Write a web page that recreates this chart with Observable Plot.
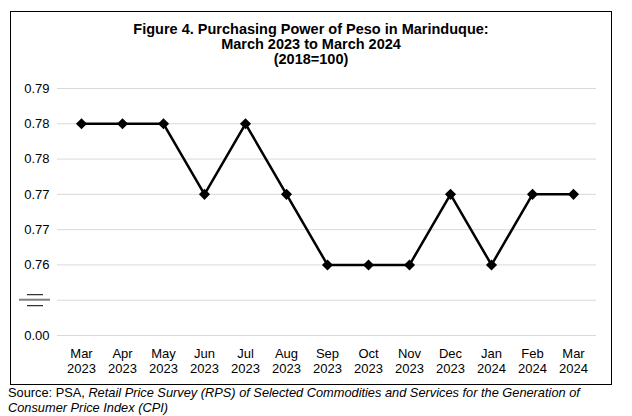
<!DOCTYPE html>
<html>
<head>
<meta charset="utf-8">
<script src="https://cdn.jsdelivr.net/npm/d3@7"></script>
<script src="https://cdn.jsdelivr.net/npm/@observablehq/plot@0.6"></script>
<style>
  html, body { margin: 0; padding: 0; background: #fff; }
  #wrap { position: relative; width: 632px; height: 416px; font-family: "Liberation Sans", Arial, sans-serif; color: #000; }
  #box { position: absolute; left: 10px; top: 11px; width: 602px; height: 374px; border: 1px solid #000; box-sizing: border-box; }
  #title { position: absolute; left: 10px; width: 602px; top: 22px; text-align: center; font-weight: bold; font-size: 14.5px; line-height: 15px; }
  #chart { position: absolute; left: 0; top: 0; }
  #caption { position: absolute; left: 8px; top: 385px; font-size: 12.8px; line-height: 15px; }
</style>
</head>
<body>
<div id="wrap">
  <div id="box"></div>
  <div id="title">Figure 4. Purchasing Power of Peso in Marinduque:<br>March 2023 to March 2024<br>(2018=100)</div>
  <div id="chart"></div>
  <div id="caption">Source: PSA, <i>Retail Price Survey (RPS) of Selected Commodities and Services for the Generation of<br>Consumer Price Index (CPI)</i></div>
</div>
<script>
const months = ["Mar\n2023","Apr\n2023","May\n2023","Jun\n2023","Jul\n2023","Aug\n2023","Sep\n2023","Oct\n2023","Nov\n2023","Dec\n2023","Jan\n2024","Feb\n2024","Mar\n2024"];
const values = [0.78,0.78,0.78,0.77,0.78,0.77,0.76,0.76,0.76,0.77,0.76,0.77,0.77];
const yTicks = [0.75,0.755,0.76,0.765,0.77,0.775,0.78,0.785];
const yTickLabels = ["0.00","","0.76","0.77","0.77","0.78","0.78","0.79"];
const breakValue = 0.755;

const data = months.map((m, i) => ({month: m, value: values[i]}));

const plot = Plot.plot({
  width: 632,
  height: 384,
  marginLeft: 57,
  marginRight: 36,
  marginTop: 88,
  marginBottom: 49,
  style: {fontFamily: "'Liberation Sans', Arial, sans-serif", fontSize: "13px", color: "#000", background: "transparent"},
  x: {type: "point", domain: months, padding: 0.5},
  y: {domain: [0.75, 0.785]},
  marks: [
    Plot.ruleY(yTicks, {stroke: "#d9d9d9", strokeWidth: 1}),
    Plot.axisY({ticks: yTicks, tickSize: 0, tickPadding: 8, tickFormat: d => yTickLabels[yTicks.indexOf(d)], label: null, fontSize: 13}),
    Plot.axisX({tickSize: 0, tickPadding: 11, label: null, fontSize: 13, lineHeight: 1.2}),
    Plot.line(data, {x: "month", y: "value", stroke: "#000", strokeWidth: 2.5}),
    Plot.dot(data, {x: "month", y: "value", symbol: "diamond2", r: 5, fill: "#000", stroke: "none"})
  ]
});
document.getElementById("chart").appendChild(plot);

// axis break symbol, positioned with the plot's own y scale
const yb = plot.scale("y").apply(breakValue);
const svg = d3.select(plot);
const g = svg.append("g");
g.append("line").attr("x1", 19).attr("x2", 50).attr("y1", yb).attr("y2", yb).attr("stroke", "#7f7f7f").attr("stroke-width", 2);
g.append("line").attr("x1", 27).attr("x2", 43).attr("y1", yb - 5).attr("y2", yb - 5).attr("stroke", "#000").attr("stroke-width", 1);
g.append("line").attr("x1", 27).attr("x2", 43).attr("y1", yb + 6).attr("y2", yb + 6).attr("stroke", "#000").attr("stroke-width", 1);
</script>
</body>
</html>
